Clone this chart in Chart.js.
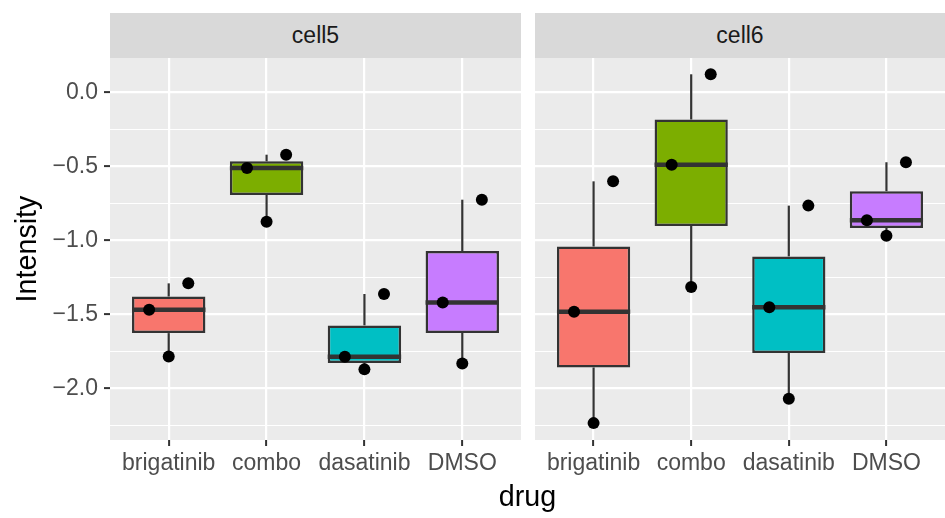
<!DOCTYPE html>
<html>
<head>
<meta charset="utf-8">
<script src="https://cdn.jsdelivr.net/npm/chart.js@4.4.1/dist/chart.umd.min.js"></script>
<style>
  body { margin: 0; background: #fff; width: 945px; height: 518px; overflow: hidden; position: relative; font-family: "Liberation Sans", Arial, sans-serif; }
  .strip { position: absolute; top: 13px; height: 45px; line-height: 45px; background: #D9D9D9; color: #1A1A1A; font-size: 23px; text-align: center; }
  canvas { position: absolute; top: 58px; }
  #xtitle { position: absolute; left: 110px; width: 835px; top: 482px; font-size: 28.7px; line-height: 1; text-align: center; color: #000; }
</style>
</head>
<body>
<div class="strip" style="left:110px;width:411px;">cell5</div>
<div class="strip" style="left:535px;width:410px;">cell6</div>
<canvas id="cell5Chart" width="521" height="460" style="left:0px;width:521px;height:460px;"></canvas>
<canvas id="cell6Chart" width="410" height="460" style="left:535px;width:410px;height:460px;"></canvas>
<div id="xtitle">drug</div>
<script>
// drug categories and fill colours (ggplot hue palette)
const drugs = ["brigatinib", "combo", "dasatinib", "DMSO"];
const drugColors = ["#F8766D", "#7CAE00", "#00BFC4", "#C77CFF"];

const cell5Values = [
    [-1.468, -1.290, -1.784],
    [-0.511, -0.421, -0.874],
    [-1.786, -1.362, -1.871],
    [-1.419, -0.725, -1.831]
];
const cell6Values = [
    [-1.482, -0.601, -2.234],
    [-0.489, 0.122, -1.315],
    [-1.451, -0.765, -2.070],
    [-0.864, -0.472, -0.968]
];
// horizontal offset of each replicate (jitter seen in the picture)
const replicateJitter = [-0.2, 0.2, 0];

// y axis: tick values (majors labelled) and range
const yTicks = [-2.25, -2.0, -1.75, -1.5, -1.25, -1.0, -0.75, -0.5, -0.25, 0.0];
const yMin = -2.348;
const yMax = 0.232;

Chart.defaults.font.family = "'Liberation Sans', Arial, sans-serif";

// quantile type 7 (R default)
function quantile(sorted, p) {
    const h = (sorted.length - 1) * p;
    const lo = Math.floor(h);
    const hi = Math.ceil(h);
    return sorted[lo] + (h - lo) * (sorted[hi] - sorted[lo]);
}

function boxStats(values) {
    return values.map(v => {
        const s = [...v].sort((a, b) => a - b);
        return { min: s[0], q1: quantile(s, 0.25), med: quantile(s, 0.5), q3: quantile(s, 0.75), max: s[s.length - 1] };
    });
}

const isMajor = v => Math.abs(v * 2 - Math.round(v * 2)) < 1e-9;
const fmtTick = v => v.toFixed(1).replace("-", "\u2212");

const panelBackground = {
    id: "panelBackground",
    beforeDraw(chart) {
        const a = chart.chartArea;
        chart.ctx.save();
        chart.ctx.fillStyle = "#EBEBEB";
        chart.ctx.fillRect(a.left, a.top, a.right - a.left, a.bottom - a.top);
        chart.ctx.restore();
    }
};

const medianLines = {
    id: "medianLines",
    afterDatasetDraw(chart, args) {
        const ds = chart.data.datasets[args.index];
        if (!ds.medians) return;
        const ctx = chart.ctx;
        const y = chart.scales.y;
        ctx.save();
        ctx.strokeStyle = "#333333";
        ctx.lineWidth = 4.5;
        args.meta.data.forEach((bar, i) => {
            const py = y.getPixelForValue(ds.medians[i]);
            ctx.beginPath();
            ctx.moveTo(bar.x - bar.width / 2, py);
            ctx.lineTo(bar.x + bar.width / 2, py);
            ctx.stroke();
        });
        ctx.restore();
    }
};

function makePanel(canvasId, values, showY) {
    const stats = boxStats(values);
    const points = [];
    values.forEach((reps, i) => {
        reps.forEach((v, k) => points.push({ x: i + replicateJitter[k], y: v }));
    });

    const config = {
        data: {
            datasets: [
                {
                    type: "scatter",
                    data: points,
                    backgroundColor: "#000000",
                    borderWidth: 0,
                    pointRadius: 6,
                    pointHoverRadius: 6,
                    clip: false,
                    order: 0
                },
                {
                    type: "bar",
                    data: stats.map((s, i) => ({ x: i, y: [s.q1, s.q3] })),
                    medians: stats.map(s => s.med),
                    backgroundColor: drugColors,
                    borderColor: "#333333",
                    borderWidth: 2.5,
                    borderSkipped: false,
                    grouped: false,
                    categoryPercentage: 1,
                    barPercentage: 0.75,
                    order: 1
                },
                {
                    type: "bar",
                    data: stats.map((s, i) => ({ x: i, y: [s.q3, s.max] })),
                    backgroundColor: "#333333",
                    borderWidth: 0,
                    grouped: false,
                    maxBarThickness: 2.2,
                    order: 2
                },
                {
                    type: "bar",
                    data: stats.map((s, i) => ({ x: i, y: [s.min, s.q1] })),
                    backgroundColor: "#333333",
                    borderWidth: 0,
                    grouped: false,
                    maxBarThickness: 2.2,
                    order: 2
                }
            ]
        },
        options: {
            responsive: false,
            animation: false,
            layout: { padding: 0, autoPadding: false },
            plugins: { legend: { display: false }, tooltip: { enabled: false } },
            scales: {
                x: {
                    type: "linear",
                    min: -0.6,
                    max: 3.6,
                    offset: false,
                    border: { display: false },
                    afterBuildTicks: s => { s.ticks = drugs.map((d, i) => ({ value: i })); },
                    afterFit: s => { s.height = 78; s.paddingLeft = 0; s.paddingRight = 0; },
                    grid: {
                        offset: false,
                        color: "#FFFFFF",
                        lineWidth: 2.2,
                        drawTicks: true,
                        tickLength: 6,
                        tickWidth: 2,
                        tickColor: "#333333"
                    },
                    ticks: {
                        callback: v => drugs[v],
                        color: "#4D4D4D",
                        font: { size: 23 },
                        padding: 4,
                        maxRotation: 0,
                        autoSkip: false
                    }
                },
                y: {
                    type: "linear",
                    min: yMin,
                    max: yMax,
                    border: { display: false },
                    afterBuildTicks: s => { s.ticks = yTicks.map(v => ({ value: v })); },
                    afterFit: s => { s.width = showY ? 110 : 0; s.paddingTop = 0; s.paddingBottom = 0; },
                    grid: {
                        color: "#FFFFFF",
                        lineWidth: ctx => isMajor(ctx.tick.value) ? 2.2 : 1.1,
                        drawTicks: showY,
                        tickLength: 6,
                        tickWidth: 2,
                        tickColor: ctx => isMajor(ctx.tick.value) ? "#333333" : "rgba(0,0,0,0)"
                    },
                    ticks: {
                        display: showY,
                        callback: v => isMajor(v) ? fmtTick(v) : "",
                        color: "#4D4D4D",
                        font: { size: 23 },
                        padding: 6
                    },
                    title: {
                        display: showY,
                        text: "Intensity",
                        color: "#000000",
                        font: { size: 28.7, lineHeight: 1.2 },
                        padding: { top: 11, bottom: 0 }
                    }
                }
            }
        },
        plugins: [panelBackground, medianLines]
    };

    const el = document.getElementById(canvasId);
    if (el) {
        new Chart(el, config);
    } else {
        console.error("missing canvas " + canvasId);
    }
}

makePanel("cell5Chart", cell5Values, true);
makePanel("cell6Chart", cell6Values, false);
</script>
</body>
</html>
